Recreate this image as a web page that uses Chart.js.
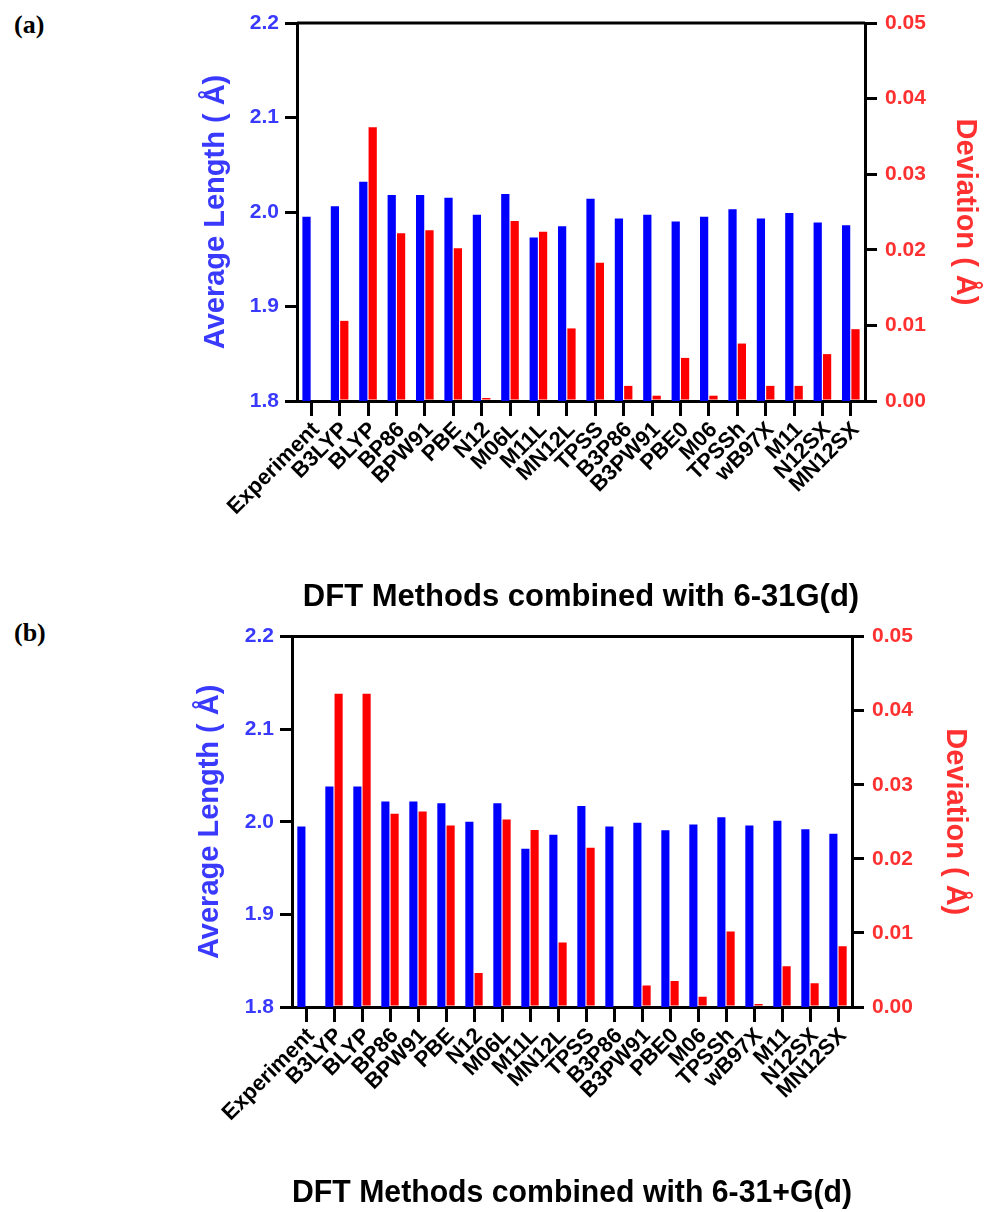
<!DOCTYPE html>
<html>
<head>
<meta charset="utf-8">
<script src="https://cdn.jsdelivr.net/npm/chart.js@4.4.1/dist/chart.umd.min.js"></script>
<style>
  html, body { margin: 0; padding: 0; background: #fff; }
  #page { position: relative; width: 984px; height: 1212px; overflow: hidden; }
  canvas { position: absolute; left: 0; }
  .panel { position: absolute; left: 14px; font: bold 26px "Liberation Serif", "DejaVu Serif", serif; color: #000; }
</style>
</head>
<body>
<div id="page">
  <div class="panel" style="top:10px">(a)</div>
  <div class="panel" style="top:618px">(b)</div>
  <canvas id="chart-a" width="984" height="616" style="top:0"></canvas>
  <canvas id="chart-b" width="984" height="596" style="top:616px"></canvas>
</div>
<script>
"use strict";

// metoder på x-axeln
const methods = ["Experiment", "B3LYP", "BLYP", "BP86", "BPW91", "PBE", "N12", "M06L", "M11L", "MN12L",
  "TPSS", "B3P86", "B3PW91", "PBE0", "M06", "TPSSh", "wB97X", "M11", "N12SX", "MN12SX"];

// (a) 6-31G(d)
const lengthA = [1.995, 2.006, 2.032, 2.018, 2.018, 2.015, 1.997, 2.019, 1.973, 1.985,
  2.014, 1.993, 1.997, 1.990, 1.995, 2.003, 1.993, 1.999, 1.989, 1.986];
const deviationA = [null, 0.0106, 0.0362, 0.0222, 0.0226, 0.0202, 0.0004, 0.0238, 0.0224, 0.0096,
  0.0183, 0.0020, 0.0007, 0.0057, 0.0007, 0.0076, 0.0020, 0.0020, 0.0062, 0.0095];

// (b) 6-31+G(d)
const lengthB = [1.995, 2.038, 2.038, 2.022, 2.022, 2.020, 2.000, 2.020, 1.971, 1.986,
  2.017, 1.995, 1.999, 1.991, 1.997, 2.005, 1.996, 2.001, 1.992, 1.987];
const deviationB = [null, 0.0423, 0.0423, 0.0261, 0.0264, 0.0245, 0.0046, 0.0253, 0.0239, 0.0087,
  0.0215, 0, 0.0029, 0.0035, 0.0014, 0.0102, 0.0004, 0.0055, 0.0032, 0.0082];

// axelgränser
const lengthTicks = [1.8, 1.9, 2.0, 2.1, 2.2];
const deviationTicks = [0.00, 0.01, 0.02, 0.03, 0.04, 0.05];

const FONT = "'Liberation Sans', Arial, Helvetica, sans-serif";
const BLUE = "#0000ff";
const RED = "#ff0000";
const BLUE_TEXT = "#3a3aff";
const RED_TEXT = "#ff3030";

// ritar den övre ramlinjen
const topBorder = {
  id: "topBorder",
  afterDraw(chart) {
    const { ctx, chartArea } = chart;
    ctx.save();
    ctx.strokeStyle = "#000";
    ctx.lineWidth = 3;
    ctx.beginPath();
    ctx.moveTo(chartArea.left, chartArea.top);
    ctx.lineTo(chartArea.right, chartArea.top);
    ctx.stroke();
    ctx.restore();
  }
};

function axisGrid(len) {
  return { drawOnChartArea: false, color: "#000", lineWidth: 3, tickLength: len, tickWidth: 3 };
}

function makeChart(id, lengths, deviations, title, g) {
  new Chart(document.getElementById(id), {
    type: "bar",
    data: {
      labels: methods,
      datasets: [{
        label: "Average Length",
        data: lengths,
        backgroundColor: BLUE,
        yAxisID: "y",
        categoryPercentage: 0.66,
        barPercentage: 0.88
      }, {
        label: "Deviation",
        data: deviations,
        backgroundColor: RED,
        yAxisID: "y1",
        categoryPercentage: 0.66,
        barPercentage: 0.88
      }]
    },
    options: {
      responsive: false,
      animation: false,
      layout: { padding: { left: g.padLeft, right: g.padRight, top: g.top, bottom: g.padBottom } },
      plugins: { legend: { display: false }, tooltip: { enabled: false } },
      scales: {
        x: {
          offset: true,
          grid: Object.assign(axisGrid(15), { offset: false }),
          border: { display: true, color: "#000", width: 3 },
          ticks: {
            autoSkip: false, minRotation: 45, maxRotation: 45, padding: 1, labelOffset: 5,
            color: "#000", font: { family: FONT, size: 22, weight: "bold" }
          },
          title: {
            display: true, text: title, color: "#000", padding: 0,
            font: { family: FONT, size: 31, weight: "bold", lineHeight: 1 }
          },
          afterFit(s) { s.height = g.xHeight; }
        },
        y: {
          position: "left",
          min: lengthTicks[0],
          max: lengthTicks[lengthTicks.length - 1],
          grid: axisGrid(12),
          border: { display: true, color: "#000", width: 3 },
          ticks: {
            stepSize: 0.1, padding: 6, color: BLUE_TEXT,
            font: { family: FONT, size: 21, weight: "bold" },
            callback: v => v.toFixed(1)
          },
          title: {
            display: true, text: "Average Length ( Å)", color: BLUE_TEXT, padding: 0,
            font: { family: FONT, size: 29, weight: "bold", lineHeight: 1 }
          },
          afterFit(s) { s.width = g.yWidth; }
        },
        y1: {
          position: "right",
          min: deviationTicks[0],
          max: deviationTicks[deviationTicks.length - 1],
          grid: axisGrid(12),
          border: { display: true, color: "#000", width: 3 },
          ticks: {
            stepSize: 0.01, padding: 8, color: RED_TEXT,
            font: { family: FONT, size: 21, weight: "bold" },
            callback: v => v.toFixed(2)
          },
          title: {
            display: true, text: "Deviation ( Å)", color: RED_TEXT, padding: 0,
            font: { family: FONT, size: 29, weight: "bold", lineHeight: 1 }
          },
          afterFit(s) { s.width = g.y1Width; }
        }
      }
    },
    plugins: [topBorder]
  });
}

makeChart("chart-a", lengthA, deviationA, "DFT Methods combined with 6-31G(d)",
  { padLeft: 201.5, yWidth: 95.5, y1Width: 114.5, padRight: 4.5, top: 23, xHeight: 211.5, padBottom: 3.5 });

makeChart("chart-b", lengthB, deviationB, "DFT Methods combined with 6-31+G(d)",
  { padLeft: 195.5, yWidth: 96.5, y1Width: 117.5, padRight: 14.5, top: 18, xHeight: 201.5, padBottom: 3.5 });
</script>
</body>
</html>
